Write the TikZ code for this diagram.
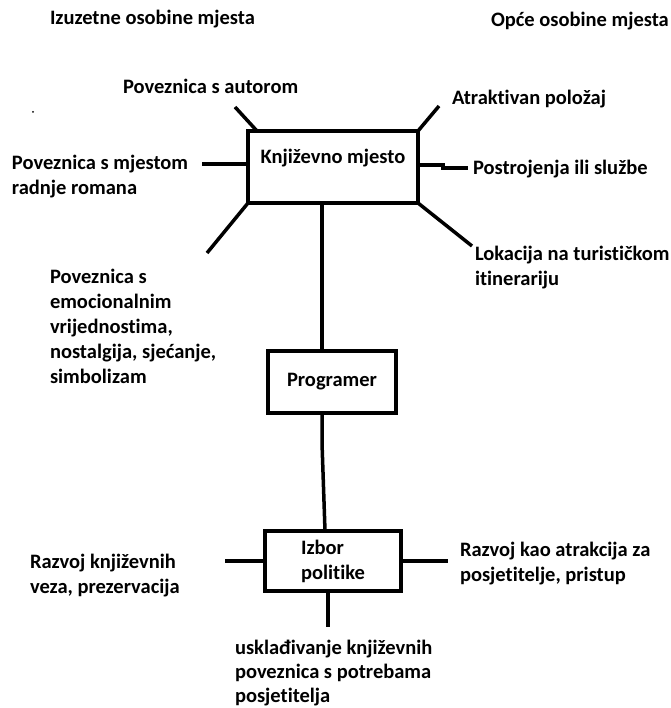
\documentclass[tikz,border=0pt]{standalone}
\usepackage{fontspec}
\setmainfont{Carlito}[Ligatures=NoCommon]
% multi-line label whose baseline is that of its first line
\newcommand\mlines[1]{\begin{tabular}[t]{@{}l@{}}#1\end{tabular}}
\begin{document}
\begin{tikzpicture}[x=1pt,y=-1pt,
  every node/.style={font=\fontsize{20.5}{25}\selectfont\bfseries, inner sep=0pt, outer sep=0pt},
  lbl/.style={anchor=base west},
  box/.style={draw, line width=4pt},
  wire/.style={line width=3.5pt}]
\fill[white] (0,0) rectangle (670,708);
\useasboundingbox (0,0) rectangle (670,708);

% headings
\node[lbl] (hl) at (50,25) {Izuzetne osobine mjesta};
\node[lbl] (hr) at (491,27) {Opće osobine mjesta};
\fill (33,112) circle (1pt);

% boxes
\node[box, minimum width=170pt, minimum height=72pt, text height=14pt, text depth=20pt]
  (lit) at (333,167) {Književno mjesto};
\node[box, minimum width=128pt, minimum height=62pt] (prog) at (332,382) {Programer};
\node[box, minimum width=136pt, minimum height=60pt, align=left] (izbor) at (333,561) {Izbor\\politike};

% labels around the top box
\node[lbl] (aut) at (123,94) {Poveznica s autorom};
\node[lbl] (atr) at (452,105) {Atraktivan položaj};
\node[lbl] (mje) at (12,170) {\mlines{Poveznica s mjestom\\radnje romana}};
\node[lbl] (pos) at (473,175) {Postrojenja ili službe};
\node[lbl] (lok) at (475,260) {\mlines{Lokacija na turističkom\\itinerariju}};
\node[lbl] (emo) at (50,283) {\mlines{Poveznica s\\emocionalnim\\vrijednostima,\\nostalgija, sjećanje,\\simbolizam}};

% labels around the bottom box
\node[lbl] (raz) at (30,568) {\mlines{Razvoj književnih\\veza, prezervacija}};
\node[lbl] (atk) at (460,556) {\mlines{Razvoj kao atrakcija za\\posjetitelje, pristup}};
\node[lbl, font=\fontsize{20.5}{24}\selectfont\bfseries] (usk) at (235,654)
  {\mlines{usklađivanje književnih\\poveznica s potrebama\\posjetitelja}};

% connector ends
\coordinate (cAut) at (235,107);
\coordinate (cAtr) at (439,106);
\coordinate (cMje) at (202,164);
\coordinate (cPosK) at (443,165);
\coordinate (cPos) at (468,168);
\coordinate (cEmo) at (207,253);
\coordinate (cLok) at (472,246);
\coordinate (cRaz) at (225,561);
\coordinate (cAtk) at (448,561);
\coordinate (cUsk) at (328,627);

% spokes of the top box
\draw[wire] ([xshift=9pt]lit.north west) -- (cAut);
\draw[wire] (lit.north east) -- (cAtr);
\draw[wire] (cMje) -- (cMje -| lit.west);
\draw[wire] (lit.east |- cPosK) -- (cPosK) -- ++(0,3) -- (cPos);
\draw[wire] (lit.south west) -- (cEmo);
\draw[wire] (lit.south east) -- (cLok);

% main chain
\draw[wire] ([xshift=-11pt]lit.south) -- ([xshift=-10pt]prog.north);
\draw[wire] ([xshift=-10pt]prog.south) -- ++(0,30) -- ([xshift=-8pt]izbor.north);

% spokes of the bottom box
\draw[wire] (cRaz) -- (izbor.west);
\draw[wire] (izbor.east) -- (cAtk);
\draw[wire] ([xshift=-5pt]izbor.south) -- (cUsk);
\end{tikzpicture}
\end{document}
